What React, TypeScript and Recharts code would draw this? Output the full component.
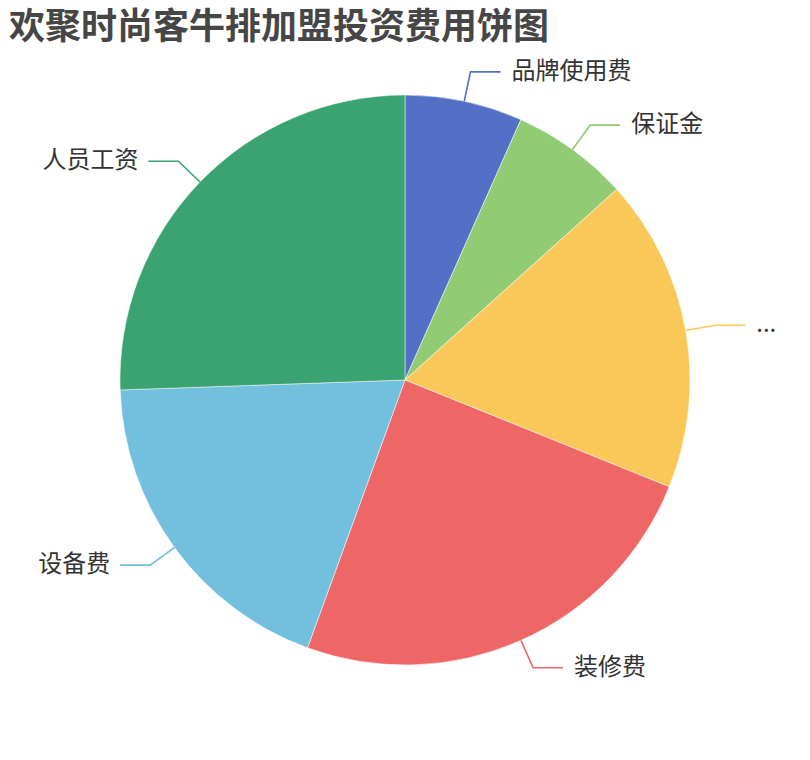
import React from "react";
import { PieChart, Pie, Cell } from "recharts";

const titleText = "欢聚时尚客牛排加盟投资费用饼图";
const categories = ["品牌使用费", "保证金", "...", "装修费", "设备费", "人员工资"];
const values = [3, 3, 8, 11, 8.5, 11.5];
const colors = ["#5470c6", "#91cc75", "#fac858", "#ee6666", "#73c0de", "#3ba272"];

const data = categories.map((name, i) => ({ name, value: values[i] }));

const FONT = '"Noto Sans CJK SC", "Noto Sans", sans-serif';
const RADIAN = Math.PI / 180;

const renderLabel = (props: any) => {
  const { cx, cy, midAngle, outerRadius, index, name } = props;
  const cos = Math.cos(-midAngle * RADIAN);
  const sin = Math.sin(-midAngle * RADIAN);
  const sx = cx + outerRadius * cos;
  const sy = cy + outerRadius * sin;
  const mx = cx + (outerRadius + 30) * cos;
  const my = cy + (outerRadius + 30) * sin;
  const right = cos >= 0;
  const ex = mx + (right ? 30 : -30);
  const ey = my;
  const tx = ex + (right ? 11 : -10);
  const color = colors[index];
  return (
    <g key={`lbl-${index}`}>
      <polyline
        points={`${sx},${sy} ${mx},${my} ${ex},${ey}`}
        fill="none"
        stroke={color}
        strokeWidth={1.6}
      />
      <text
        x={tx}
        y={ey + 7}
        textAnchor={right ? "start" : "end"}
        fontSize={24}
        fontFamily={FONT}
        fill="#333"
      >
        {name}
      </text>
    </g>
  );
};

export default function App() {
  return (
    <div style={{ position: "absolute", left: 0, top: 0, width: 810, height: 760, background: "#fff" }}>
      <PieChart width={810} height={760} margin={{ top: 0, right: 0, bottom: 0, left: 0 }}>
        <Pie
          data={data}
          dataKey="value"
          nameKey="name"
          cx={405}
          cy={380}
          outerRadius={285}
          startAngle={90}
          endAngle={-270}
          stroke="#fff"
          strokeWidth={0.5}
          label={renderLabel}
          labelLine={false}
          isAnimationActive={false}
        >
          {data.map((d, i) => (
            <Cell key={d.name} fill={colors[i]} />
          ))}
        </Pie>
      </PieChart>
      <svg
        width={810}
        height={760}
        style={{ position: "absolute", left: 0, top: 0, pointerEvents: "none" }}
      >
        <text x={9} y={39} fontSize={36} fontWeight="bold" fontFamily={FONT} fill="#464646">
          {titleText}
        </text>
      </svg>
    </div>
  );
}
